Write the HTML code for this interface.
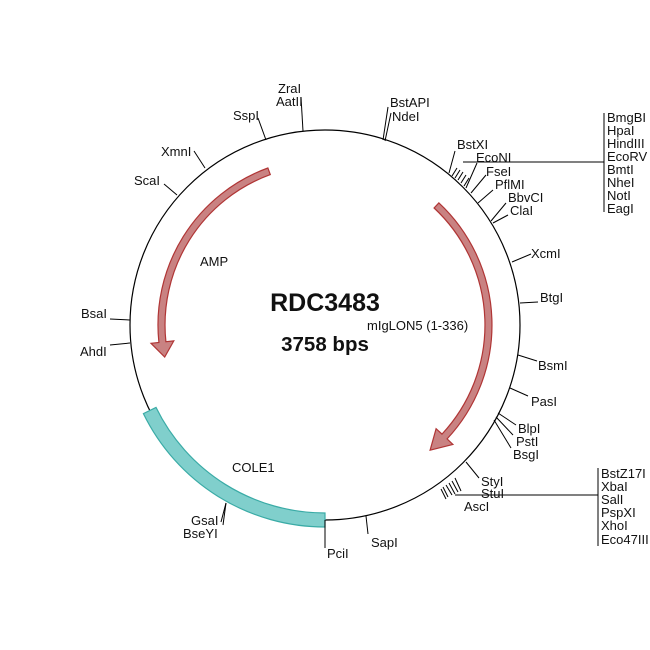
<!DOCTYPE html>
<html><head><meta charset="utf-8"><style>
html,body{margin:0;padding:0;background:#fff}
svg{display:block}
text{font-family:"Liberation Sans",Arial,sans-serif;font-size:13px;fill:#111}
</style></head><body>
<svg width="650" height="650" viewBox="0 0 650 650" xmlns="http://www.w3.org/2000/svg">
<circle cx="325" cy="325" r="195" fill="none" stroke="#000" stroke-width="1.2"/>
<path d="M438.9,202.9 A167,167 0 0 1 447.1,438.9 L452.9,444.4 L430.1,450.2 L436.1,428.7 L442.0,434.1 A160,160 0 0 0 434.1,208.0 Z" fill="#c98282" stroke="#b03535" stroke-width="1.2"/>
<path d="M267.9,168.0 A167,167 0 0 0 158.9,342.5 L151.0,343.3 L164.7,357.0 L173.8,340.9 L165.9,341.7 A160,160 0 0 1 270.3,174.6 Z" fill="#c98282" stroke="#b03535" stroke-width="1.2"/>
<path d="M143.4,413.6 A202,202 0 0 0 325,527 L325,513 A188,188 0 0 1 156.0,407.4 Z" fill="#80cfcc" stroke="#3aaba6" stroke-width="1.2"/>
<g stroke="#000" stroke-width="1" fill="none">
<line x1="303" y1="131" x2="301" y2="97"/>
<line x1="266" y1="140" x2="258" y2="118"/>
<line x1="205" y1="168" x2="194" y2="151"/>
<line x1="177" y1="195" x2="164" y2="184"/>
<line x1="130" y1="320" x2="110" y2="319"/>
<line x1="130" y1="343" x2="110" y2="345"/>
<line x1="226" y1="503" x2="221" y2="522"/>
<line x1="226" y1="503" x2="223" y2="525"/>
<line x1="325" y1="520" x2="325" y2="548"/>
<line x1="366" y1="516" x2="368" y2="534"/>
<line x1="383" y1="140" x2="388" y2="107"/>
<line x1="385" y1="141" x2="391" y2="113"/>
<line x1="449" y1="173" x2="455" y2="151"/>
<line x1="452" y1="176" x2="457" y2="168"/>
<line x1="455" y1="178" x2="460" y2="170"/>
<line x1="458" y1="180" x2="463" y2="172"/>
<line x1="461" y1="183" x2="466" y2="175"/>
<line x1="464" y1="186" x2="469" y2="178"/>
<line x1="466" y1="188" x2="477" y2="163"/>
<line x1="471" y1="193" x2="486" y2="175"/>
<line x1="478" y1="203" x2="493" y2="190"/>
<line x1="491" y1="221" x2="506" y2="203"/>
<line x1="493" y1="223" x2="508" y2="215"/>
<polyline points="463,162 604,162"/>
<line x1="604" y1="113" x2="604" y2="212"/>
<line x1="512" y1="262" x2="531" y2="254"/>
<line x1="520" y1="303" x2="538" y2="302"/>
<line x1="518" y1="355" x2="537" y2="361"/>
<line x1="510" y1="388" x2="528" y2="396"/>
<line x1="498" y1="413" x2="516" y2="425"/>
<line x1="496" y1="417" x2="513" y2="435"/>
<line x1="494" y1="420" x2="511" y2="448"/>
<line x1="466" y1="462" x2="479" y2="478"/>
<line x1="455" y1="478" x2="461" y2="491"/>
<line x1="452" y1="481" x2="458" y2="492"/>
<line x1="449" y1="483" x2="455" y2="494"/>
<line x1="446" y1="485" x2="452" y2="495"/>
<line x1="443" y1="487" x2="448" y2="497"/>
<line x1="441" y1="489" x2="446" y2="499"/>
<polyline points="455,495 598,495"/>
<line x1="598" y1="468" x2="598" y2="546"/>
</g>
<text x="278" y="93">ZraI</text>
<text x="276" y="106">AatII</text>
<text x="233" y="120">SspI</text>
<text x="161" y="156">XmnI</text>
<text x="134" y="185">ScaI</text>
<text x="81" y="318">BsaI</text>
<text x="80" y="356">AhdI</text>
<text x="191" y="525">GsaI</text>
<text x="183" y="538">BseYI</text>
<text x="327" y="558">PciI</text>
<text x="371" y="547">SapI</text>
<text x="390" y="107">BstAPI</text>
<text x="392" y="121">NdeI</text>
<text x="457" y="149">BstXI</text>
<text x="476" y="162">EcoNI</text>
<text x="486" y="176">FseI</text>
<text x="495" y="189">PflMI</text>
<text x="508" y="202">BbvCI</text>
<text x="510" y="215">ClaI</text>
<text x="607" y="122">BmgBI</text>
<text x="607" y="135">HpaI</text>
<text x="607" y="148">HindIII</text>
<text x="607" y="161">EcoRV</text>
<text x="607" y="174">BmtI</text>
<text x="607" y="187">NheI</text>
<text x="607" y="200">NotI</text>
<text x="607" y="213">EagI</text>
<text x="531" y="258">XcmI</text>
<text x="540" y="302">BtgI</text>
<text x="538" y="370">BsmI</text>
<text x="531" y="406">PasI</text>
<text x="518" y="433">BlpI</text>
<text x="516" y="446">PstI</text>
<text x="513" y="459">BsgI</text>
<text x="481" y="486">StyI</text>
<text x="481" y="498">StuI</text>
<text x="464" y="511">AscI</text>
<text x="601" y="478">BstZ17I</text>
<text x="601" y="491">XbaI</text>
<text x="601" y="504">SalI</text>
<text x="601" y="517">PspXI</text>
<text x="601" y="530">XhoI</text>
<text x="601" y="544">Eco47III</text>
<text x="200" y="266">AMP</text>
<text x="232" y="472">COLE1</text>
<text x="367" y="330">mIgLON5 (1-336)</text>
<text x="325" y="311" text-anchor="middle" style="font-size:25px;font-weight:bold">RDC3483</text>
<text x="325" y="351" text-anchor="middle" style="font-size:20.5px;font-weight:bold">3758 bps</text>
</svg>
</body></html>
